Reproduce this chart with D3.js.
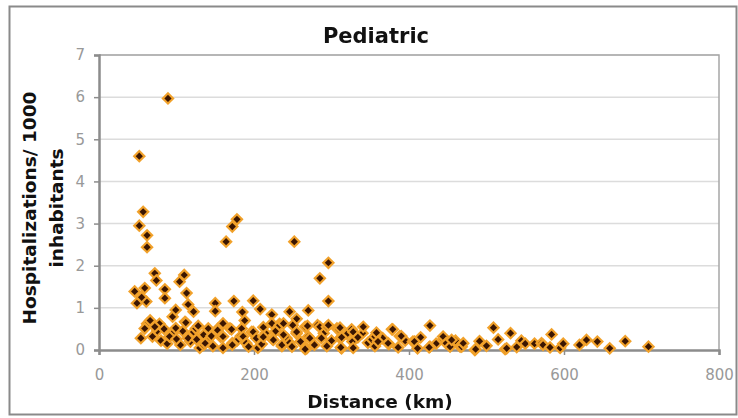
<!DOCTYPE html>
<html><head><meta charset="utf-8">
<script src="https://cdn.jsdelivr.net/npm/d3@7/dist/d3.min.js"></script>
<style>body{margin:0;background:#fff}svg{display:block}</style>
</head><body><svg id="c" width="738" height="418"></svg>
<script>
const title = "Pediatric";
const xLabel = "Distance (km)";
const yLabelLines = ["Hospitalizations/ 1000", "inhabitants"];
const xTicks = [0, 200, 400, 600, 800];
const yTicks = [0, 1, 2, 3, 4, 5, 6, 7];
// distance (km)
const distance = [
 89,52,57,52,62,62,164,172,178,252,296,285,296,
 46,59,49,61,55,72,74,85,85,104,110,113,115,122,95,99,111,150,150,174,185,199,208,223,246,270,255,188,233,160,
 62,66,75,78,80,84,88,95,105,108,118,130,140,160,178,205,215,228,242,260,278,290,300,320,340,366,395,415,435,460,500,515,545,595,620,
 54,59,69,72,91,99,100,112,115,122,125,128,126,135,135,137,141,145,147,153,153,157,160,169,171,172,172,183,184,186,190,193,197,199,203,210,212,212,223,224,225,233,236,236,238,238,246,249,250,255,255,266,268,266,270,269,272,282,285,287,294,294,296,307,309,
 311,311,313,313,312,326,328,327,328,334,341,347,352,356,356,358,360,374,373,378,379,386,388,390,405,407,411,427,427,426,444,444,448,453,455,466,468,470,485,486,491,509,524,526,531,539,550,562,571,573,582,584,599,629,643,659,679,709
];
// hospitalizations per 1000 inhabitants
const rate = [
 5.97,4.60,3.28,2.95,2.72,2.44,2.57,2.93,3.10,2.57,2.07,1.70,1.16,
 1.39,1.47,1.11,1.15,1.25,1.82,1.65,1.44,1.23,1.62,1.78,1.35,1.08,0.91,0.79,0.95,0.67,1.11,0.92,1.16,0.90,1.17,0.97,0.84,0.91,0.94,0.74,0.70,0.62,0.63,
 0.62,0.70,0.45,0.62,0.22,0.50,0.15,0.40,0.12,0.45,0.20,0.05,0.25,0.05,0.22,0.05,0.40,0.45,0.28,0.20,0.12,0.40,0.22,0.38,0.40,0.28,0.22,0.30,0.15,0.22,0.10,0.25,0.22,0.05,0.12,
 0.28,0.51,0.32,0.55,0.32,0.52,0.26,0.65,0.28,0.43,0.51,0.57,0.25,0.36,0.12,0.16,0.51,0.33,0.09,0.50,0.47,0.31,0.32,0.51,0.49,0.16,0.12,0.33,0.51,0.32,0.16,0.08,0.43,0.43,0.28,0.14,0.54,0.31,0.63,0.25,0.24,0.59,0.09,0.12,0.36,0.63,0.17,0.08,0.59,0.39,0.43,0.55,0.04,0.02,0.32,0.57,0.28,0.59,0.55,0.28,0.55,0.09,0.59,0.51,0.49,
 0.53,0.28,0.30,0.04,0.06,0.49,0.43,0.20,0.05,0.30,0.55,0.17,0.25,0.32,0.09,0.41,0.20,0.14,0.16,0.49,0.49,0.06,0.33,0.33,0.20,0.20,0.04,0.58,0.08,0.06,0.25,0.32,0.16,0.08,0.24,0.08,0.08,0.16,0.00,0.02,0.21,0.53,0.02,0.04,0.40,0.07,0.15,0.15,0.16,0.12,0.06,0.37,0.15,0.24,0.20,0.04,0.21,0.08
];

const svg = d3.select("#c");
const L = 99, R = 719, T = 55, B = 350;
const x = d3.scaleLinear().domain([0, 800]).range([L, R]);
const y = d3.scaleLinear().domain([0, 7]).range([B, T]);

const defs = svg.append("defs");
defs.append("filter").attr("id", "soft").attr("x", "-10%").attr("y", "-10%").attr("width", "120%").attr("height", "120%")
  .append("feGaussianBlur").attr("stdDeviation", 0.6);

// outer frame
svg.append("rect").attr("x", 9.5).attr("y", 6.5).attr("width", 727).attr("height", 408)
  .attr("fill", "#fff").attr("stroke", "#8a8a8a").attr("stroke-width", 2);

// gridlines
svg.append("g").selectAll("line").data(yTicks.filter(d => d > 0)).join("line")
  .attr("x1", L).attr("x2", R).attr("y1", d => y(d)).attr("y2", d => y(d))
  .attr("stroke", "#dcdcdc").attr("stroke-width", 1.5);
// plot border top/right
svg.append("path").attr("d", `M${L},${T}H${R}V${B}`).attr("fill", "none")
  .attr("stroke", "#a6a6a6").attr("stroke-width", 1.5);

// axes
const yAxis = d3.axisLeft(y).tickValues(yTicks).tickSize(5).tickPadding(9).tickFormat(d3.format("d"));
const xAxis = d3.axisBottom(x).tickValues(xTicks).tickSize(5).tickPadding(14).tickFormat(d3.format("d"));
const gy = svg.append("g").attr("transform", `translate(${L},0)`).call(yAxis);
const gx = svg.append("g").attr("transform", `translate(0,${B})`).call(xAxis);
[gx, gy].forEach(g => {
  g.select(".domain").attr("stroke", "#8c8c8c").attr("stroke-width", 2.5);
  g.selectAll(".tick line").attr("stroke", "#8c8c8c").attr("stroke-width", 1.5);
  g.selectAll(".tick text").attr("fill", "#999").attr("font-family", "DejaVu Sans")
    .attr("font-size", 15);
});

// points
const pts = distance.map((d, i) => ({d, r: rate[i]}));
const g = svg.append("g").attr("filter", "url(#soft)").selectAll("g").data(pts).join("g")
  .attr("transform", p => `translate(${x(p.d)},${y(p.r)})`);
g.append("path").attr("d", d3.symbol().type(d3.symbolSquare).size(88)()).attr("transform", "rotate(45)")
  .attr("fill", "#f1a12a");
g.append("path").attr("d", d3.symbol().type(d3.symbolSquare).size(26)()).attr("transform", "rotate(45)")
  .attr("fill", "#3a1606");

// title
svg.append("text").attr("x", 376).attr("y", 43).attr("text-anchor", "middle")
  .attr("font-family", "DejaVu Sans").attr("font-weight", "bold").attr("font-size", 21)
  .attr("fill", "#111").text(title);
// x label
svg.append("text").attr("x", 380).attr("y", 408).attr("text-anchor", "middle")
  .attr("font-family", "DejaVu Sans").attr("font-weight", "bold").attr("font-size", 18.5)
  .attr("fill", "#111").text(xLabel);
// y label
const yl = svg.append("text").attr("transform", "translate(0,208) rotate(-90)")
  .attr("text-anchor", "middle").attr("font-family", "DejaVu Sans").attr("font-weight", "bold")
  .attr("font-size", 18.5).attr("fill", "#111");
yLabelLines.forEach((t, i) => yl.append("tspan").attr("x", 0).attr("y", 36 + i * 27).text(t));
</script></body></html>
